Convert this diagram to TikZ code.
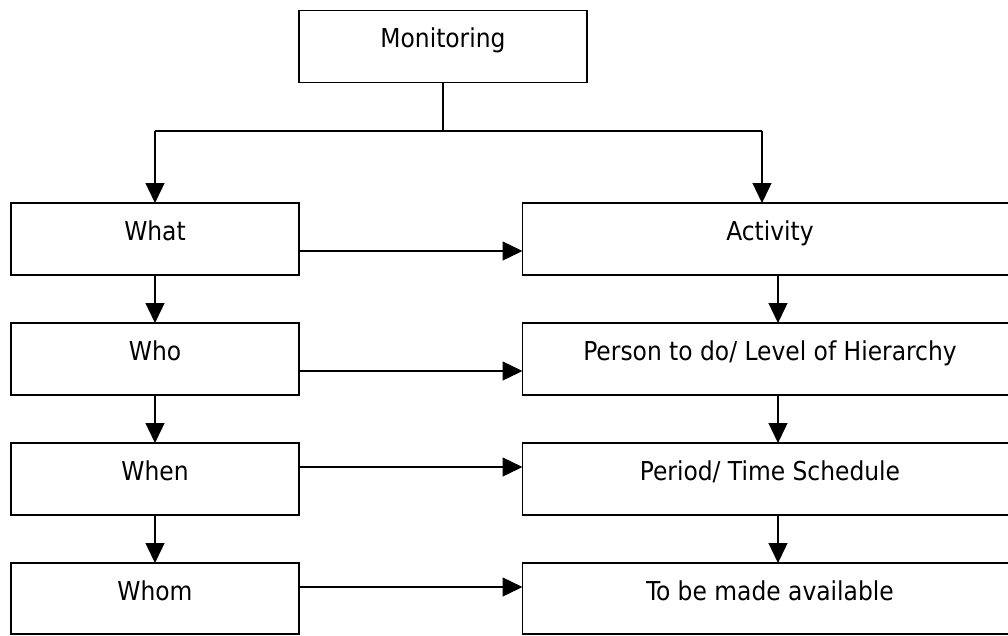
\documentclass[tikz,border=0pt]{standalone}
\usepackage{fontspec}
\setmainfont{DejaVu Sans Condensed}
\usetikzlibrary{arrows.meta}
\tikzset{
  box/.style={draw, line width=1.4pt, inner sep=0pt, outer sep=0pt, minimum height=72pt},
  lbox/.style={box, minimum width=288pt},
  rbox/.style={box, minimum width=495pt},
  lbl/.style={anchor=base, inner sep=0pt, font=\fontsize{26}{30}\selectfont},
  link/.style={line width=1.3pt},
  conn/.style={line width=1.3pt, -{Triangle[length=20pt,width=19pt]}}
}
\begin{document}
\begin{tikzpicture}[x=1pt,y=-1pt]
\useasboundingbox (0,0) rectangle (1008,635);
\clip (0,0) rectangle (1008,635);
% boxes
\node[box, minimum width=288pt, minimum height=71.6pt] (mon) at (443,46.5) {};
\node[lbox] (what) at (155,239) {};
\node[lbox] (who)  at (155,359) {};
\node[lbox] (when) at (155,479) {};
\node[lbox, minimum height=71pt] (whom) at (155,598.5) {};
\node[rbox] (act)  at (770,239) {};
\node[rbox] (per)  at (770,359) {};
\node[rbox] (peri) at (770,479) {};
\node[rbox, minimum height=71pt] (avail) at (770,598.5) {};
% labels
\node[lbl] (tmon)  at ([yshift=-37pt]mon.north) {Monitoring};
\node[lbl] (twhat) at ([yshift=-37pt]what.north) {What};
\node[lbl] (twho)  at ([yshift=-37pt]who.north) {Who};
\node[lbl] (twhen) at ([yshift=-37pt]when.north) {When};
\node[lbl] (twhom) at ([yshift=-37pt]whom.north) {Whom};
\node[lbl] (tact)  at ([yshift=-37pt]act.north) {Activity};
\node[lbl] (tper)  at ([yshift=-37pt]per.north) {Person to do/ Level of Hierarchy};
\node[lbl] (tperi) at ([yshift=-37pt]peri.north) {Period/ Time Schedule};
\node[lbl] (tavail) at ([yshift=-37pt]avail.north) {To be made available};
% top split
\coordinate (j)  at (443,131);
\coordinate (jl) at (155,131);
\coordinate (jr) at (762,131);
\draw[link] (mon.south) -- (j);
\draw[link] (jl) -- (jr);
\draw[conn] (jl) -- (what.north);
\draw[conn] (jr) -- (jr |- act.north);
% horizontal arrows
\draw[conn] (what.east |- 0,251) -- (act.west |- 0,251);
\draw[conn] (who.east |- 0,371) -- (per.west |- 0,371);
\draw[conn] (when.east |- 0,467) -- (peri.west |- 0,467);
\draw[conn] (whom.east |- 0,587) -- (avail.west |- 0,587);
% left column
\draw[conn] (what.south) -- (who.north);
\draw[conn] (who.south) -- (when.north);
\draw[conn] (when.south) -- (whom.north);
% right column
\draw[conn] (act.south -| 778,0) -- (per.north -| 778,0);
\draw[conn] (per.south -| 778,0) -- (peri.north -| 778,0);
\draw[conn] (peri.south -| 778,0) -- (avail.north -| 778,0);
\end{tikzpicture}
\end{document}
